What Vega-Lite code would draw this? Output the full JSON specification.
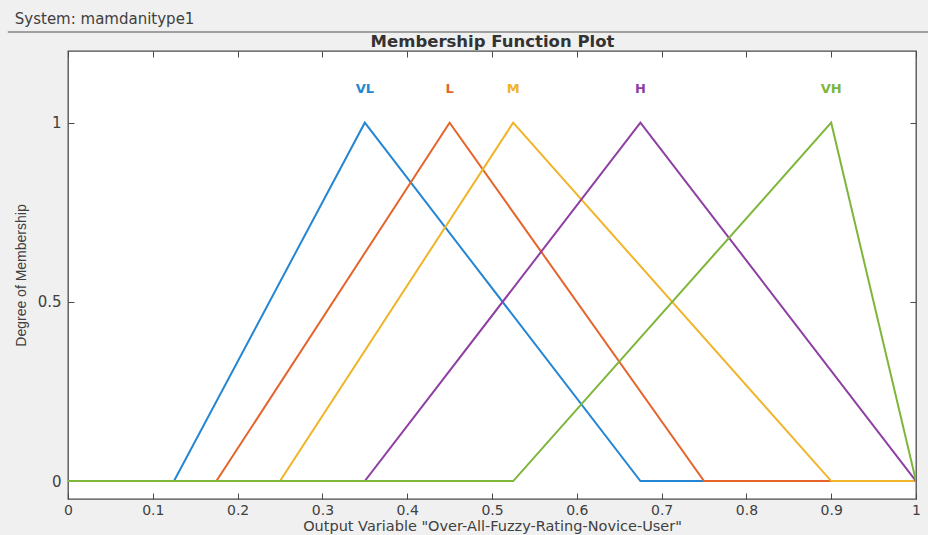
{
  "$schema": "https://vega.github.io/schema/vega-lite/v6.json",
  "width": 848,
  "height": 448,
  "autosize": {"type": "none"},
  "padding": {"left": 68, "top": 51, "right": 12, "bottom": 36},
  "background": "#f0f0f0",
  "title": {
    "text": "System: mamdanitype1",
    "anchor": "start",
    "frame": "bounds",
    "font": "DejaVu Sans",
    "fontSize": 15,
    "fontWeight": "normal",
    "color": "#404040",
    "offset": 4,
    "dx": 8
  },
  "config": {
    "font": "DejaVu Sans",
    "view": {"fill": "white", "stroke": "#4a4a4a", "strokeWidth": 1.3}
  },
  "datasets": {
    "mf": [
      {"set": "VL", "x": 0, "mu": 0},
      {"set": "VL", "x": 0.125, "mu": 0},
      {"set": "VL", "x": 0.35, "mu": 1},
      {"set": "VL", "x": 0.675, "mu": 0},
      {"set": "VL", "x": 1, "mu": 0},
      {"set": "L", "x": 0, "mu": 0},
      {"set": "L", "x": 0.175, "mu": 0},
      {"set": "L", "x": 0.45, "mu": 1},
      {"set": "L", "x": 0.75, "mu": 0},
      {"set": "L", "x": 1, "mu": 0},
      {"set": "M", "x": 0, "mu": 0},
      {"set": "M", "x": 0.25, "mu": 0},
      {"set": "M", "x": 0.525, "mu": 1},
      {"set": "M", "x": 0.9, "mu": 0},
      {"set": "M", "x": 1, "mu": 0},
      {"set": "H", "x": 0, "mu": 0},
      {"set": "H", "x": 0.35, "mu": 0},
      {"set": "H", "x": 0.675, "mu": 1},
      {"set": "H", "x": 1, "mu": 0},
      {"set": "VH", "x": 0, "mu": 0},
      {"set": "VH", "x": 0.525, "mu": 0},
      {"set": "VH", "x": 0.9, "mu": 1},
      {"set": "VH", "x": 1, "mu": 0}
    ],
    "peaks": [
      {"set": "VL", "x": 0.35},
      {"set": "L", "x": 0.45},
      {"set": "M", "x": 0.525},
      {"set": "H", "x": 0.675},
      {"set": "VH", "x": 0.9}
    ]
  },
  "layer": [
    {
      "data": {"name": "mf"},
      "mark": {"type": "line", "strokeWidth": 2, "clip": true},
      "encoding": {
        "x": {
          "field": "x",
          "type": "quantitative",
          "scale": {"domain": [0, 1], "nice": false, "zero": false},
          "axis": {
            "orient": "bottom",
            "values": [0, 0.1, 0.2, 0.3, 0.4, 0.5, 0.6, 0.7, 0.8, 0.9, 1],
            "format": "~g",
            "grid": false,
            "domain": false,
            "tickSize": -6,
            "tickColor": "#4a4a4a",
            "labelPadding": 10,
            "labelFontSize": 14,
            "labelColor": "#404040",
            "labelFlush": false,
            "title": "Output Variable \"Over-All-Fuzzy-Rating-Novice-User\"",
            "titleFontSize": 14.5,
            "titleFontWeight": "normal",
            "titleColor": "#404040",
            "titlePadding": 2
          }
        },
        "y": {
          "field": "mu",
          "type": "quantitative",
          "scale": {"domain": [-0.05, 1.2], "nice": false, "zero": false},
          "axis": {
            "orient": "left",
            "values": [0, 0.5, 1],
            "format": "~g",
            "grid": false,
            "domain": false,
            "tickSize": -6,
            "tickColor": "#4a4a4a",
            "labelPadding": 13,
            "labelFontSize": 15,
            "labelColor": "#404040",
            "title": "Degree of Membership",
            "titleFont": "Liberation Sans",
            "titleFontSize": 14,
            "titleFontWeight": "normal",
            "titleColor": "#404040",
            "titlePadding": 9
          }
        },
        "color": {
          "field": "set",
          "type": "nominal",
          "scale": {
            "domain": ["VL", "L", "M", "H", "VH"],
            "range": ["#2486d3", "#e5642c", "#f0b429", "#8e3fa3", "#7db63a"]
          },
          "legend": null
        }
      }
    },
    {
      "data": {"name": "peaks"},
      "mark": {"type": "text", "fontSize": 13, "fontWeight": "bold", "font": "DejaVu Sans"},
      "encoding": {
        "x": {
          "field": "x",
          "type": "quantitative",
          "axis": {
            "orient": "top",
            "values": [0, 0.1, 0.2, 0.3, 0.4, 0.5, 0.6, 0.7, 0.8, 0.9, 1],
            "labels": false,
            "grid": false,
            "domain": false,
            "tickSize": -6,
            "tickColor": "#4a4a4a",
            "title": "Membership Function Plot",
            "titleFontSize": 16.5,
            "titleFontWeight": "bold",
            "titleColor": "#333333",
            "titlePadding": 1
          }
        },
        "y": {
          "datum": 1.095,
          "axis": {
            "orient": "right",
            "values": [0, 0.5, 1],
            "labels": false,
            "grid": false,
            "domain": false,
            "tickSize": -6,
            "tickColor": "#4a4a4a",
            "title": null
          }
        },
        "text": {"field": "set"},
        "color": {"field": "set", "type": "nominal", "legend": null}
      }
    },
    {
      "data": {"values": [{}]},
      "mark": {"type": "rule", "color": "#a0a0a0", "strokeWidth": 2, "clip": false},
      "encoding": {
        "x": {"datum": -0.071, "axis": null},
        "x2": {"datum": 1.015},
        "y": {"datum": 1.253, "axis": null}
      }
    }
  ],
  "resolve": {"axis": {"x": "independent", "y": "independent"}}
}
